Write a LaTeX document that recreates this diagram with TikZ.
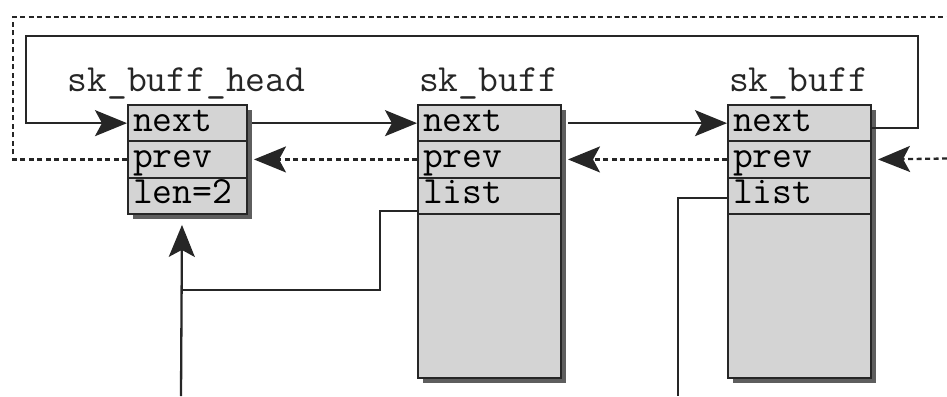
\documentclass[tikz,border=0pt]{standalone}
\usepackage{fontspec}
\usetikzlibrary{arrows.meta}
\definecolor{cellfill}{HTML}{D4D4D4}
\definecolor{shadowc}{HTML}{5E5E5E}
\definecolor{ink}{HTML}{262626}
\begin{document}
\begin{tikzpicture}[x=1pt,y=-1pt,
  cellbase/.style={draw=ink, fill=cellfill, line width=2pt, inner xsep=5pt, inner ysep=0pt,
    anchor=north west, align=left, font=\fontsize{38.5}{40}\selectfont\ttfamily},
  cell/.style={cellbase, text height=26.3pt, text depth=10pt},
  bodycell/.style={cellbase, text height=0pt, text depth=164pt},
  lbl/.style={anchor=base, inner sep=0pt, font=\fontsize{38.5}{40}\selectfont\ttfamily, text=ink},
  line/.style={draw=ink, line width=2.3pt},
  tip/.style={-{Stealth[length=32pt,width=26pt,inset=7pt]}},
  arr/.style={line, tip},
  dline/.style={line, dash pattern=on 5pt off 3.5pt},
  darr/.style={dline, tip},
  shadowbox/.style={fill=shadowc}
]
\useasboundingbox (0,0) rectangle (947,396);

% shadows
\fill[shadowbox] (133,110) rectangle (252,219);
\fill[shadowbox] (423,110) rectangle (566,383);
\fill[shadowbox] (733,110) rectangle (876,383);

% head struct
\node[cell, text width=109pt] (hnext) at (127,104) {next};
\node[cell, text width=109pt] (hprev) at (127,140.3) {prev};
\node[cell, text width=109pt] (hlen) at (127,176.6) {len=2};
\node[lbl] (hlbl) at (186.5,91) {sk\_buff\_head};

% sk_buff 1
\node[cell, text width=133pt] (anext) at (417,104) {next};
\node[cell, text width=133pt] (aprev) at (417,140.3) {prev};
\node[cell, text width=133pt] (alist) at (417,176.6) {list};
\node[bodycell, text width=133pt] (abody) at (417,212.9) {};
\node[lbl] (albl) at (488.5,91) {sk\_buff};

% sk_buff 2
\node[cell, text width=133pt] (bnext) at (727,104) {next};
\node[cell, text width=133pt] (bprev) at (727,140.3) {prev};
\node[cell, text width=133pt] (blist) at (727,176.6) {list};
\node[bodycell, text width=133pt] (bbody) at (727,212.9) {};
\node[lbl] (blbl) at (798.5,91) {sk\_buff};

% coordinates for free ends / bends
\coordinate (loopR) at (918,36);
\coordinate (loopL) at (26,36);
\coordinate (dTL) at (13,17);
\coordinate (dTR) at (947,17);
\coordinate (dR) at (947,158.5);
\coordinate (k1) at (380,290);
\coordinate (j1) at (181,290);
\coordinate (hb) at (181,396);
\coordinate (bb) at (678,396);

% next links
\draw[arr] ([yshift=-5pt]bnext.east) -| (loopR) -- (loopL) |- (hnext.west);
\draw[arr] ([xshift=4pt]hnext.east) -- (anext.west);
\draw[arr] ([xshift=6pt]anext.east) -- (bnext.west);

% prev links
\draw[darr] (dR) -- ([xshift=6pt]bprev.east);
\draw[darr] (bprev.west) -- ([xshift=6pt]aprev.east);
\draw[darr] (aprev.west) -- ([xshift=6pt]hprev.east);
\draw[dline] (hprev.west) -| (dTL) -- (dTR);

% list links
\draw[line] ([yshift=-15pt]alist.west) -| (k1) -- (j1);
\draw[arr] (hb) -- ([xshift=-5.5pt,yshift=-10pt]hlen.south);
\draw[line] ([yshift=-2pt]blist.west) -| (bb);
\end{tikzpicture}
\end{document}
